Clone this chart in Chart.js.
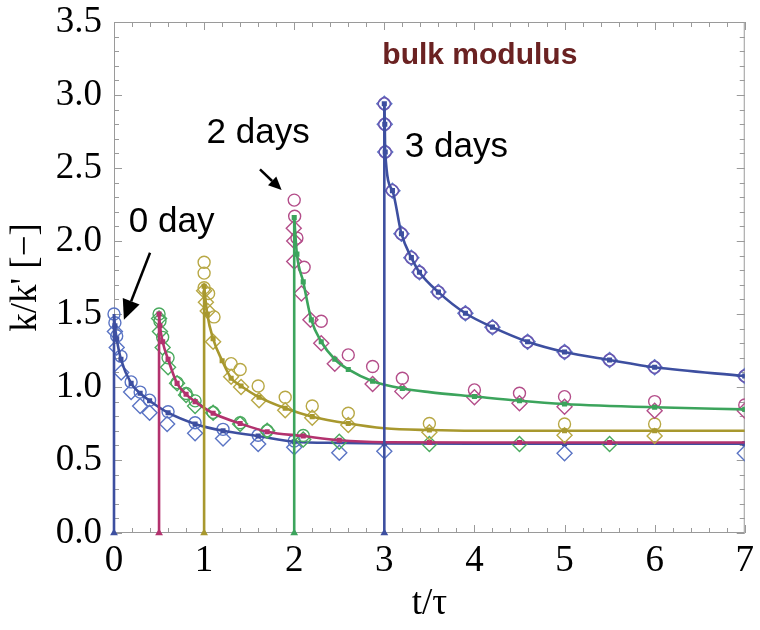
<!DOCTYPE html>
<html>
<head>
<meta charset="utf-8">
<script src="https://cdn.jsdelivr.net/npm/chart.js@4/dist/chart.umd.min.js"></script>
<style>
  html, body { margin: 0; padding: 0; background: #fff; }
  #wrap { width: 760px; height: 630px; }
</style>
</head>
<body>
<div id="wrap"><canvas id="chart" width="760" height="630"></canvas></div>
<script>
// ── Axis ticks ────────────────────────────────────────────────────────────────
const xTicks = [0, 1, 2, 3, 4, 5, 6, 7];
const yTicks = [0.0, 0.5, 1.0, 1.5, 2.0, 2.5, 3.0, 3.5];

// ── 0 day (loaded at t = 0) ───────────────────────────────────────────────────
const day0Start   = 0;
const day0CurveT  = [0, 0.01, 0.03, 0.077, 0.19, 0.29, 0.395, 0.6, 0.9, 1.21, 1.6, 2.0, 2.5, 3.0, 4.0, 5.0, 6.0, 7.0];
const day0CurveK  = [1.50, 1.42, 1.33, 1.19, 1.025, 0.957, 0.906, 0.824, 0.747, 0.70, 0.664, 0.625, 0.617, 0.613, 0.612, 0.612, 0.612, 0.612];
const day0ModelT  = [0.01, 0.03, 0.077, 0.19, 0.29, 0.395, 0.6, 0.9, 1.21, 1.6, 2.0, 3.0, 5.0, 7.0];
const day0ModelK  = [1.42, 1.33, 1.19, 1.025, 0.957, 0.906, 0.824, 0.747, 0.70, 0.664, 0.625, 0.613, 0.612, 0.612];
const day0CircT   = [0, 0.01, 0.03, 0.077, 0.19, 0.29, 0.395, 0.6, 0.9, 1.21, 1.6, 2.0];
const day0CircK   = [1.50, 1.44, 1.35, 1.21, 1.035, 0.965, 0.91, 0.83, 0.755, 0.71, 0.67, 0.63];
const day0DiamT   = [0.01, 0.03, 0.08, 0.19, 0.29, 0.395, 0.59, 0.9, 1.21, 1.6, 2.0, 2.5, 3.0, 5.0, 7.0];
const day0DiamK   = [1.38, 1.27, 1.10, 0.966, 0.87, 0.824, 0.747, 0.683, 0.648, 0.61, 0.587, 0.55, 0.56, 0.546, 0.546];

// ── loaded at t = 0.5 ─────────────────────────────────────────────────────────
const halfStart   = 0.5;
const halfCurveT  = [0.5, 0.51, 0.54, 0.6, 0.7, 0.8, 0.9, 1.1, 1.4, 1.7, 2.1, 2.5, 3.0, 4.0, 5.0, 6.0, 7.0];
const halfCurveK  = [1.50, 1.42, 1.31, 1.19, 1.025, 0.95, 0.90, 0.82, 0.75, 0.694, 0.664, 0.635, 0.622, 0.62, 0.62, 0.62, 0.62];
const halfModelT  = [0.5, 0.51, 0.54, 0.6, 0.7, 0.8, 0.9, 1.1, 1.4, 1.7, 2.1, 2.5, 3.5, 4.5, 5.5];
const halfModelK  = [1.50, 1.42, 1.31, 1.19, 1.025, 0.95, 0.90, 0.82, 0.75, 0.694, 0.664, 0.635, 0.62, 0.62, 0.62];
const halfCircT   = [0.5, 0.51, 0.54, 0.6, 0.7, 0.8, 0.9, 1.1, 1.4, 1.7, 2.1];
const halfCircK   = [1.50, 1.45, 1.34, 1.20, 1.03, 0.955, 0.905, 0.825, 0.755, 0.70, 0.668];
const halfDiamT   = [0.5, 0.51, 0.54, 0.6, 0.7, 0.8, 0.9, 1.1, 1.4, 1.7, 2.1, 2.5, 3.5, 4.5, 5.5];
const halfDiamK   = [1.47, 1.38, 1.27, 1.135, 1.025, 0.945, 0.87, 0.824, 0.747, 0.70, 0.64, 0.625, 0.61, 0.61, 0.61];

// ── 1 day ─────────────────────────────────────────────────────────────────────
const day1Start   = 1.0;
const day1CurveT  = [1.0, 1.035, 1.1, 1.2, 1.3, 1.41, 1.61, 1.9, 2.2, 2.6, 3.0, 3.5, 4.0, 5.0, 6.0, 7.0];
const day1CurveK  = [1.69, 1.50, 1.33, 1.18, 1.06, 1.007, 0.93, 0.854, 0.797, 0.75, 0.718, 0.705, 0.70, 0.70, 0.70, 0.70];
const day1ModelT  = [1.0, 1.035, 1.1, 1.2, 1.3, 1.41, 1.61, 1.9, 2.2, 2.6, 3.5, 5.0, 6.0];
const day1ModelK  = [1.69, 1.50, 1.33, 1.18, 1.06, 1.007, 0.93, 0.854, 0.797, 0.75, 0.705, 0.70, 0.70];
const day1CircT   = [1.0, 1.0, 1.0, 1.05, 1.11, 1.3, 1.4, 1.6, 1.9, 2.2, 2.6, 3.5, 5.0, 6.0];
const day1CircK   = [1.854, 1.78, 1.68, 1.64, 1.48, 1.16, 1.12, 1.007, 0.93, 0.87, 0.82, 0.75, 0.747, 0.747];
const day1DiamT   = [1.0, 1.02, 1.04, 1.1, 1.3, 1.41, 1.61, 1.9, 2.2, 2.6, 3.5, 5.0, 6.0];
const day1DiamK   = [1.66, 1.58, 1.52, 1.31, 1.07, 1.0, 0.91, 0.84, 0.79, 0.74, 0.69, 0.67, 0.664];

// ── 2 days ────────────────────────────────────────────────────────────────────
const day2Start   = 2.0;
const day2CurveT  = [2.0, 2.03, 2.1, 2.19, 2.3, 2.45, 2.6, 2.87, 3.2, 3.5, 4.0, 4.5, 5.0, 6.0, 7.0];
const day2CurveK  = [2.16, 1.91, 1.72, 1.46, 1.31, 1.19, 1.12, 1.04, 0.99, 0.965, 0.935, 0.906, 0.884, 0.861, 0.847];
const day2ModelT  = [2.0, 2.03, 2.1, 2.19, 2.3, 2.45, 2.6, 2.87, 3.2, 4.0, 4.5, 5.0, 6.0, 7.0];
const day2ModelK  = [2.16, 1.91, 1.72, 1.46, 1.31, 1.19, 1.12, 1.04, 0.99, 0.935, 0.906, 0.884, 0.861, 0.847];
const day2CircT   = [2.0, 2.005, 2.03, 2.11, 2.3, 2.6, 2.87, 3.2, 4.0, 4.5, 5.0, 6.0, 7.0];
const day2CircK   = [2.28, 2.17, 2.02, 1.82, 1.45, 1.22, 1.14, 1.06, 0.98, 0.957, 0.934, 0.90, 0.877];
const day2DiamT   = [1.995, 2.0, 2.0, 2.08, 2.18, 2.3, 2.45, 2.87, 3.2, 4.0, 4.5, 5.0, 6.0, 7.0];
const day2DiamK   = [2.087, 2.0, 1.86, 1.64, 1.46, 1.30, 1.16, 1.02, 0.97, 0.93, 0.888, 0.865, 0.838, 0.838];

// ── 3 days ────────────────────────────────────────────────────────────────────
const day3Start   = 3.0;
const day3CurveT  = [3.0, 3.005, 3.01, 3.09, 3.19, 3.3, 3.39, 3.6, 3.9, 4.2, 4.59, 5.0, 5.5, 6.0, 7.0];
const day3CurveK  = [2.94, 2.80, 2.61, 2.345, 2.05, 1.886, 1.786, 1.65, 1.505, 1.41, 1.31, 1.24, 1.185, 1.135, 1.075];
const day3ModelT  = day3CurveT;
const day3ModelK  = day3CurveK;
const day3CircT   = day3CurveT;
const day3CircK   = day3CurveK;
const day3DiamT   = day3CurveT;
const day3DiamK   = day3CurveK;

// ── Colours ───────────────────────────────────────────────────────────────────
const BLUE    = '#3d4fa0';
const BLUE_LT = '#5a74c4';
const PURPLE  = '#6a56b0';
const MAGENTA = '#b3326e';
const MAG_LT  = '#b44e8a';
const OLIVE   = '#a8982e';
const OLIVE_LT= '#b8a845';
const GREEN   = '#3ca45c';
const GREEN_LT= '#4aaa5e';

const pts = (ts, ks) => ts.map((t, i) => ({ x: t, y: ks[i] }));
const CLIP = { left: 10, top: 10, right: 0, bottom: 10 };

// one loading history: model curve, model points, two measured sets, start marker
function historySets(start, peak, curve, model, circ, diam, c) {
  return [
    { data: [{ x: start, y: 0 }, { x: start, y: peak }], showLine: true, borderColor: c.line,
      borderWidth: 2.6, pointRadius: 0, tension: 0, clip: CLIP },
    { data: curve, showLine: true, borderColor: c.line, borderWidth: 2.6, pointRadius: 0,
      cubicInterpolationMode: 'monotone', clip: CLIP },
    { data: model, pointStyle: 'rect', pointRadius: 3.6, backgroundColor: c.line,
      borderColor: c.line, borderWidth: 0, clip: CLIP },
    { data: [{ x: start, y: 0 }], pointStyle: 'triangle', pointRadius: 4.5,
      backgroundColor: c.line, borderColor: c.line, borderWidth: 0, clip: CLIP },
    { data: circ, pointStyle: 'circle', pointRadius: 6, backgroundColor: 'rgba(0,0,0,0)',
      borderColor: c.circ, borderWidth: 1.4, clip: CLIP },
    { data: diam, pointStyle: 'rectRot', pointRadius: 7.5, backgroundColor: 'rgba(0,0,0,0)',
      borderColor: c.diam, borderWidth: 1.4, clip: CLIP },
  ];
}

const datasets = [
  ...historySets(day3Start, day3CurveK[0], pts(day3CurveT, day3CurveK), pts(day3ModelT, day3ModelK),
    pts(day3CircT, day3CircK), pts(day3DiamT, day3DiamK), { line: BLUE, circ: PURPLE, diam: BLUE_LT }),
  ...historySets(day2Start, day2CurveK[0], pts(day2CurveT, day2CurveK), pts(day2ModelT, day2ModelK),
    pts(day2CircT, day2CircK), pts(day2DiamT, day2DiamK), { line: GREEN, circ: MAG_LT, diam: MAG_LT }),
  ...historySets(day1Start, day1CurveK[0], pts(day1CurveT, day1CurveK), pts(day1ModelT, day1ModelK),
    pts(day1CircT, day1CircK), pts(day1DiamT, day1DiamK), { line: OLIVE, circ: OLIVE_LT, diam: OLIVE_LT }),
  ...historySets(halfStart, halfCurveK[0], pts(halfCurveT, halfCurveK), pts(halfModelT, halfModelK),
    pts(halfCircT, halfCircK), pts(halfDiamT, halfDiamK), { line: MAGENTA, circ: GREEN_LT, diam: GREEN_LT }),
  ...historySets(day0Start, day0CurveK[0], pts(day0CurveT, day0CurveK), pts(day0ModelT, day0ModelK),
    pts(day0CircT, day0CircK), pts(day0DiamT, day0DiamK), { line: BLUE, circ: BLUE_LT, diam: BLUE_LT }),
];

// ── Frame with inward ticks on all four sides ────────────────────────────────
const framePlugin = {
  id: 'frame',
  beforeDatasetsDraw(chart) {
    const { ctx, chartArea: a, scales: { x, y } } = chart;
    ctx.save();
    ctx.strokeStyle = '#9a9a9a';
    ctx.lineWidth = 1;
    ctx.strokeRect(a.left + 0.5, a.top + 0.5, a.right - a.left - 1, a.bottom - a.top - 1);
    ctx.beginPath();
    for (let i = 0; i <= 35; i++) {
      const px = Math.round(x.getPixelForValue(i * 0.2)) + 0.5;
      const len = i % 5 === 0 ? 8 : 5;
      ctx.moveTo(px, a.bottom); ctx.lineTo(px, a.bottom - len);
      ctx.moveTo(px, a.top);    ctx.lineTo(px, a.top + len);
    }
    for (let i = 0; i <= 35; i++) {
      const py = Math.round(y.getPixelForValue(i * 0.1)) + 0.5;
      const len = i % 5 === 0 ? 8 : 5;
      ctx.moveTo(a.left, py);  ctx.lineTo(a.left + len, py);
      ctx.moveTo(a.right, py); ctx.lineTo(a.right - len, py);
    }
    ctx.stroke();
    ctx.restore();
  }
};

// ── Labels and arrows placed in data coordinates ─────────────────────────────
const sans = '"Liberation Sans", Arial, sans-serif';
const notes = [
  { text: 'bulk modulus', t: 4.06, k: 3.27, font: 'bold 30px ' + sans, color: '#6b2222' },
  { text: '2 days', t: 1.60, k: 2.74, font: '35px ' + sans, color: '#000' },
  { text: '3 days', t: 3.80, k: 2.64, font: '35px ' + sans, color: '#000' },
  { text: '0 day',  t: 0.64, k: 2.13, font: '35px ' + sans, color: '#000' },
];
const arrows = [
  { t0: 0.40, k0: 1.92, t1: 0.11, k1: 1.46, head: 20, wing: 9 },
  { t0: 1.62, k0: 2.49, t1: 1.86, k1: 2.35, head: 13, wing: 6 },
];

const notesPlugin = {
  id: 'notes',
  afterDatasetsDraw(chart) {
    const { ctx, scales: { x, y } } = chart;
    ctx.save();
    ctx.textAlign = 'center';
    ctx.textBaseline = 'middle';
    notes.forEach(n => {
      ctx.font = n.font;
      ctx.fillStyle = n.color;
      ctx.fillText(n.text, x.getPixelForValue(n.t), y.getPixelForValue(n.k));
    });
    arrows.forEach(a => {
      const x0 = x.getPixelForValue(a.t0), y0 = y.getPixelForValue(a.k0);
      const x1 = x.getPixelForValue(a.t1), y1 = y.getPixelForValue(a.k1);
      const ang = Math.atan2(y1 - y0, x1 - x0);
      const bx = x1 - a.head * Math.cos(ang), by = y1 - a.head * Math.sin(ang);
      ctx.strokeStyle = '#000';
      ctx.fillStyle = '#000';
      ctx.lineWidth = 2.5;
      ctx.beginPath();
      ctx.moveTo(x0, y0);
      ctx.lineTo(bx, by);
      ctx.stroke();
      ctx.beginPath();
      ctx.moveTo(x1, y1);
      ctx.lineTo(bx + a.wing * Math.sin(ang), by - a.wing * Math.cos(ang));
      ctx.lineTo(bx - a.wing * Math.sin(ang), by + a.wing * Math.cos(ang));
      ctx.closePath();
      ctx.fill();
    });
    ctx.restore();
  }
};

const serif = '"Liberation Serif", "Times New Roman", serif';

new Chart(document.getElementById('chart'), {
  type: 'scatter',
  data: { datasets },
  options: {
    responsive: false,
    animation: false,
    devicePixelRatio: 1,
    layout: { padding: { top: 22, right: 8, left: 0, bottom: 0 } },
    plugins: { legend: { display: false }, tooltip: { enabled: false } },
    scales: {
      x: {
        type: 'linear', min: xTicks[0], max: xTicks[xTicks.length - 1],
        afterFit: s => { s.height = 97; },
        afterBuildTicks: s => { s.ticks = xTicks.map(v => ({ value: v })); },
        grid: { display: false, drawTicks: false },
        border: { display: false },
        ticks: { color: '#000', padding: 6, font: { family: serif, size: 37 }, callback: v => String(v) },
        title: { display: true, text: 't/τ', color: '#000', padding: { top: 0, bottom: 4 },
                 font: { family: serif, size: 37 } },
      },
      y: {
        type: 'linear', min: yTicks[0], max: yTicks[yTicks.length - 1],
        afterFit: s => { s.width = 114; },
        afterBuildTicks: s => { s.ticks = yTicks.map(v => ({ value: v })); },
        grid: { display: false, drawTicks: false },
        border: { display: false },
        ticks: { color: '#000', padding: 12, font: { family: serif, size: 37, lineHeight: 0.5 },
                 callback: v => Number(v).toFixed(1) },
        title: { display: true, text: "k/k' [\u2212]", color: '#000', padding: { top: 4, bottom: 0 },
                 font: { family: serif, size: 37 } },
      }
    }
  },
  plugins: [framePlugin, notesPlugin]
});
</script>
</body>
</html>
